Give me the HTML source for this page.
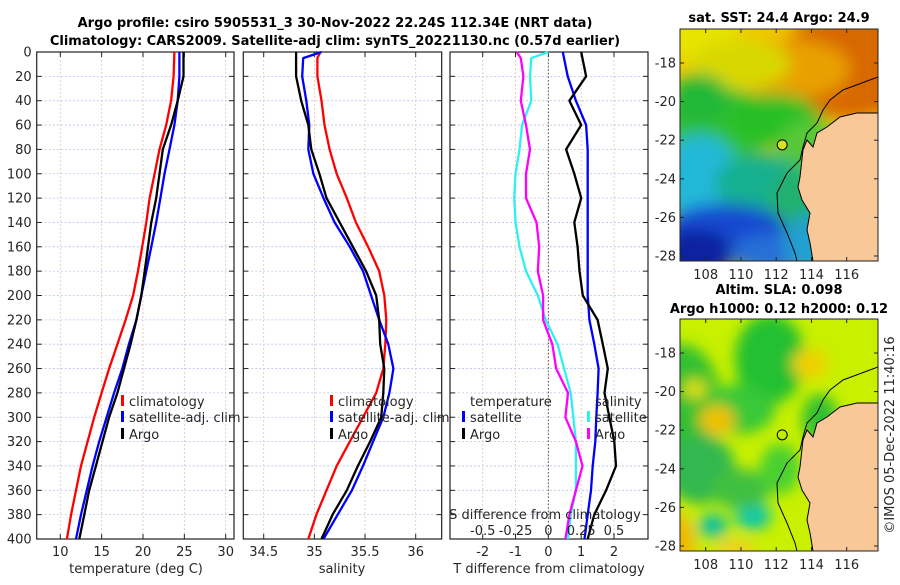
<!DOCTYPE html>
<html><head><meta charset="utf-8">
<style>
body{margin:0;background:#fff;}
svg text{font-family:"DejaVu Sans","Liberation Sans",sans-serif;}
</style></head>
<body>
<svg id="chart" width="900" height="580" viewBox="0 0 900 580" xmlns="http://www.w3.org/2000/svg">
<defs>
<filter id="blur1" x="-20%" y="-20%" width="140%" height="140%"><feGaussianBlur stdDeviation="8"/></filter>
<filter id="blur2" x="-20%" y="-20%" width="140%" height="140%"><feGaussianBlur stdDeviation="7"/></filter>
<clipPath id="clipMap1"><rect x="680" y="29" width="198" height="232"/></clipPath>
<clipPath id="clipMap2"><rect x="680" y="319" width="198" height="232"/></clipPath>
</defs>
<text x="335" y="27" text-anchor="middle" font-size="13" font-weight="bold">Argo profile: csiro 5905531_3 30-Nov-2022 22.24S 112.34E (NRT data)</text>
<text x="335" y="45" text-anchor="middle" font-size="13" font-weight="bold">Climatology: CARS2009. Satellite-adj clim: synTS_20221130.nc (0.57d earlier)</text>
<g id="plots"></g>
<g id="maps"></g>
</svg>
<script>
// ---- data ----
const depths = [0,20,40,60,80,100,120,140,160,180,200,220,240,260,280,300,320,340,360,380,400];
const tempArgo = [24.9,24.9,24.2,23.4,22.4,22.0,21.6,21.0,20.6,20.2,19.8,19.2,18.5,17.7,16.9,15.9,15.1,14.3,13.5,12.9,12.3];
const tempClim = [23.8,23.7,23.4,22.8,22.0,21.4,20.8,20.4,19.9,19.4,18.8,17.9,16.9,15.9,15.0,14.1,13.3,12.5,11.9,11.3,10.8];
const tempSat  = [24.4,24.4,24.2,23.8,23.2,22.6,22.1,21.6,21.0,20.4,19.8,19.2,18.3,17.5,16.5,15.6,14.7,13.9,13.2,12.5,11.9];
const salDepths = [0,5,20,40,60,80,100,120,140,160,180,200,220,240,260,280,300,320,340,360,380,400];
const salArgo = [34.82,34.82,34.82,34.87,34.94,34.97,35.05,35.12,35.25,35.38,35.51,35.61,35.64,35.65,35.69,35.68,35.66,35.55,35.43,35.32,35.18,35.07];
const salClim = [35.06,35.03,35.03,35.07,35.10,35.15,35.22,35.32,35.41,35.53,35.64,35.69,35.71,35.70,35.68,35.61,35.48,35.35,35.22,35.12,35.02,34.94];
const salSat  = [35.07,34.89,34.88,34.92,34.95,34.94,34.99,35.09,35.20,35.35,35.48,35.56,35.64,35.73,35.78,35.74,35.68,35.58,35.48,35.37,35.23,35.09];
const dTempSat  = [0.44,0.59,0.84,1.15,1.2,1.2,1.2,1.2,1.2,1.2,1.2,1.25,1.4,1.53,1.5,1.46,1.43,1.35,1.3,1.2,1.1];
const dTempArgo = [1.0,1.15,0.64,1.0,0.54,0.79,1.0,0.79,0.89,0.95,1.05,1.5,1.66,1.81,1.71,1.86,2.01,2.06,1.76,1.4,1.2];
const dSalSat  = [0.0,-0.13,-0.14,-0.13,-0.2,-0.22,-0.25,-0.26,-0.25,-0.22,-0.17,-0.08,-0.02,0.07,0.12,0.17,0.19,0.21,0.21,0.21,0.17,0.15];
const dSalArgo = [-0.24,-0.21,-0.19,-0.21,-0.17,-0.14,-0.17,-0.17,-0.09,-0.07,-0.08,-0.04,-0.04,0.03,0.06,0.15,0.13,0.21,0.26,0.21,0.16,0.13];
const depthTicks = [0,20,40,60,80,100,120,140,160,180,200,220,240,260,280,300,320,340,360,380,400];
const tempTicks = [10,15,20,25,30];
const salTicks = [34.5,35,35.5,36];
const dTTicks = [-2,-1,0,1,2];
const dSTicks = [-0.5,-0.25,0,0.25,0.5];
const dSTickLabels = ['-0.5','-0.25','0','0.25','0.5'];
const lonTicks = [108,110,112,114,116];
const latTicks = [-18,-20,-22,-24,-26,-28];
const floatLon = 112.34, floatLat = -22.24;

const NS='http://www.w3.org/2000/svg';
function mk(tag, attrs, parent, txt){
  const e=document.createElementNS(NS,tag);
  for(const k in attrs) e.setAttribute(k,attrs[k]);
  if(txt!==undefined) e.textContent=txt;
  parent.appendChild(e); return e;
}
const plots=document.getElementById('plots');
const top0=52, bot0=539;
function yD(d){return top0+(d/400)*(bot0-top0);}
function lin(d0,d1,r0,r1){return v=>r0+(v-d0)/(d1-d0)*(r1-r0);}

function panel(name,x0,x1,xs,ticks,tickLabels,showY){
  const g=mk('g',{},plots);
  
  
  depthTicks.forEach(d=>{
    const l=mk('line',{x1:x0,x2:x1,y1:yD(d),y2:yD(d),stroke:'#b8c4e8','stroke-width':0.8,'stroke-dasharray':'2,2'},g);
    
    
    mk('line',{x1:x0,x2:x0+5,y1:yD(d),y2:yD(d),stroke:'#222'},g);
    mk('line',{x1:x1-5,x2:x1,y1:yD(d),y2:yD(d),stroke:'#222'},g);
    if(showY){
      const tl=mk('text',{x:x0-5,y:yD(d)+4.5,'text-anchor':'end','font-size':13,fill:'#262626'},g,String(d));
      
      
    }
  });
  ticks.forEach((v,i)=>{
    const x=xs(v);
    const l=mk('line',{x1:x,x2:x,y1:top0,y2:bot0,stroke:'#e8c0b0','stroke-width':0.8,'stroke-dasharray':'2,2'},g);
    
    
    mk('line',{x1:x,x2:x,y1:bot0,y2:bot0-5,stroke:'#222'},g);
    mk('line',{x1:x,x2:x,y1:top0,y2:top0+5,stroke:'#222'},g);
    if(tickLabels){
      const tl=mk('text',{x:x,y:556,'text-anchor':'middle','font-size':13,fill:'#262626'},g,tickLabels[i]);
      
      
    }
  });
  const fr=mk('rect',{x:x0,y:top0,width:x1-x0,height:bot0-top0,fill:'none',stroke:'#222','stroke-width':1.2},g);
  
  
  return g;
}
function series(g,name,xs,vals,dep,color){
  const pts=vals.map((v,i)=>xs(v).toFixed(1)+','+yD(dep[i]).toFixed(1)).join(' ');
  const p=mk('polyline',{points:pts,fill:'none',stroke:color,'stroke-width':2.3,'stroke-linejoin':'round'},g);
  
  
}
function legend(g,name,x,y,color,label){
  const e=mk('g',{},g);
  
  
  if(color) mk('rect',{x:x,y:y-11,width:3,height:11,fill:color},e);
  mk('text',{x:x+8,y:y,'font-size':13,fill:'#262626'},e,label);
}
function xlabel(g,name,x,y,label){
  const t=mk('text',{x:x,y:y,'text-anchor':'middle','font-size':13,fill:'#262626'},g,label);
  
  
}

const xT=lin(10,30,60.3,225.7);
const g1=panel('temperature-panel',36.7,234,xT,tempTicks,tempTicks.map(String),true);
series(g1,'temp-climatology-line',xT,tempClim,depths,'#f00');
series(g1,'temp-satellite-line',xT,tempSat,depths,'#00f');
series(g1,'temp-argo-line',xT,tempArgo,depths,'#000');
legend(g1,'legend-climatology',121,406,'#f00','climatology');
legend(g1,'legend-satellite-adj',121,422,'#00f','satellite-adj. clim');
legend(g1,'legend-argo',121,439,'#000','Argo');
xlabel(g1,'temperature-axis-title',136,573,'temperature (deg C)');

const xS=lin(34.5,36,263.7,415.7);
const g2=panel('salinity-panel',243.3,441.7,xS,salTicks,salTicks.map(String),false);
series(g2,'sal-climatology-line',xS,salClim,salDepths,'#f00');
series(g2,'sal-satellite-line',xS,salSat,salDepths,'#00f');
series(g2,'sal-argo-line',xS,salArgo,salDepths,'#000');
legend(g2,'legend-climatology-sal',330,406,'#f00','climatology');
legend(g2,'legend-satellite-adj-sal',330,422,'#00f','satellite-adj. clim');
legend(g2,'legend-argo-sal',330,439,'#000','Argo');
xlabel(g2,'salinity-axis-title',342,573,'salinity');

const xDT=lin(-2,2,482.7,614);
const xDS=lin(-0.5,0.5,482.7,614);
const g3=panel('difference-panel',450,648,xDT,dTTicks,dTTicks.map(String),false);
const zl=mk('line',{x1:xDT(0),x2:xDT(0),y1:top0,y2:bot0,stroke:'#555','stroke-width':1,'stroke-dasharray':'1.5,2'},g3);


series(g3,'dsal-satellite-line',xDS,dSalSat,salDepths,'#2ff0f0');
series(g3,'dsal-argo-line',xDS,dSalArgo,salDepths,'#ff00ff');
series(g3,'dtemp-satellite-line',xDT,dTempSat,depths,'#00f');
series(g3,'dtemp-argo-line',xDT,dTempArgo,depths,'#000');
legend(g3,'legend-temperature-heading',462,406,null,'temperature');
legend(g3,'legend-temp-satellite',462,422,'#00f','satellite');
legend(g3,'legend-temp-argo',462,439,'#000','Argo');
legend(g3,'legend-salinity-heading',587,406,null,'salinity');
legend(g3,'legend-sal-satellite',587,422,'#2ff0f0','satellite');
legend(g3,'legend-sal-argo',587,439,'#ff00ff','Argo');
xlabel(g3,'s-difference-axis-title',545,519,'S difference from climatology');
dSTicks.forEach((v,i)=>{
  const t=mk('text',{x:xDS(v),y:535,'text-anchor':'middle','font-size':13,fill:'#262626'},g3,dSTickLabels[i]);
  
  
});
xlabel(g3,'t-difference-axis-title',549,573,'T difference from climatology');

// ---- Maps ----
const maps=document.getElementById('maps');
const lonX=lin(108,116,705.7,846.7);
const latY=lin(-18,-28,63,256);
const coastShelf=[[878,77],[843,90],[830,100],[823,110],[817,123],[807,133],[803,147],[800,160],[787,173],[780,187],[777,193],[778,213],[787,233],[795,253],[797,261]];
const coastLand=[[878,113],[857,113],[840,117],[827,127],[817,133],[813,147],[807,140],[803,150],[800,177],[798,187],[802,200],[810,213],[807,230],[810,243],[813,261]];

function drawMap(name,oy,blobs,base,title1,title2){
  const g=mk('g',{},maps);
  
  
  const inner=mk('g',{'clip-path':'url(#'+(oy?'clipMap2':'clipMap1')+')'},g);
  mk('rect',{x:680,y:29+oy,width:198,height:232,fill:base},inner);
  const bg=mk('g',{filter:'url(#'+(oy?'blur2':'blur1')+')'},inner);
  blobs.forEach(b=>mk('ellipse',{cx:680+b[0],cy:29+oy+b[1],rx:b[2],ry:b[3],fill:b[4]},bg));
  const land=coastLand.map(p=>p[0]+','+(p[1]+oy)).join(' ')+' 878,'+(261+oy);
  const lp=mk('polygon',{points:land,fill:'#f8c898',stroke:'#000','stroke-width':1},inner);
  
  
  const sh=mk('polyline',{points:coastShelf.map(p=>p[0]+','+(p[1]+oy)).join(' '),fill:'none',stroke:'#000','stroke-width':1},inner);
  
  
  const c=mk('circle',{cx:lonX(floatLon),cy:latY(floatLat)+oy,r:5,fill:oy?'none':'#d8e020',stroke:'#000','stroke-width':1},g);
  
  
  mk('rect',{x:680,y:29+oy,width:198,height:232,fill:'none',stroke:'#222'},g);
  lonTicks.forEach(v=>{
    const x=lonX(v);
    mk('line',{x1:x,x2:x,y1:261+oy,y2:257+oy,stroke:'#222'},g);
    mk('line',{x1:x,x2:x,y1:29+oy,y2:33+oy,stroke:'#222'},g);
    const t=mk('text',{x:x,y:279+oy,'text-anchor':'middle','font-size':13,fill:'#262626'},g,String(v));
    
    
  });
  latTicks.forEach(v=>{
    const y=latY(v)+oy;
    mk('line',{x1:680,x2:684,y1:y,y2:y,stroke:'#222'},g);
    mk('line',{x1:874,x2:878,y1:y,y2:y,stroke:'#222'},g);
    const t=mk('text',{x:676,y:y+4.5,'text-anchor':'end','font-size':13,fill:'#262626'},g,String(v));
    
    
  });
  const t1=mk('text',{x:779,y:title2?oy+4:oy+22,'text-anchor':'middle','font-size':13,'font-weight':'bold'},g,title1);
  
  
  if(title2){
    const t2=mk('text',{x:779,y:oy+23,'text-anchor':'middle','font-size':13,'font-weight':'bold'},g,title2);
    
    
  }
}
drawMap('sst-map',0,[
  [10,5,50,25,'#e8e400'],[170,35,70,55,'#d86800'],[110,40,60,30,'#e8a000'],
  [60,35,50,25,'#d8d800'],[40,95,60,35,'#30c030'],[95,90,45,25,'#28c028'],
  [20,70,30,25,'#20b838'],[130,130,35,40,'#58c838'],
  [20,150,40,45,'#20b8d8'],[80,155,45,30,'#18b090'],[120,175,30,40,'#20b070'],
  [45,200,60,25,'#1848d0'],[15,225,40,25,'#0820a0'],[90,225,40,20,'#2870d8'],[130,215,25,30,'#20a0d0'],
  [150,140,25,20,'#50d040']
],'#f0c800','sat. SST: 24.4 Argo: 24.9',null);
drawMap('sla-map',290,[
  [0,80,40,55,'#30c030'],[90,40,35,45,'#20c030'],[60,90,35,25,'#38c838'],
  [37,101,18,15,'#f0c000'],[15,70,12,10,'#e0e010'],[130,45,18,15,'#f0d000'],
  [20,150,35,35,'#30b850'],[33,207,15,12,'#10c0a0'],[73,197,18,14,'#10c8a8'],
  [60,170,30,20,'#40c040'],[0,225,15,30,'#f0b800'],[55,230,20,10,'#f0d020'],
  [100,150,20,25,'#48d030'],[140,100,18,25,'#30c030']
],'#c8f000','Altim. SLA: 0.098','Argo h1000: 0.12 h2000: 0.12');
const cr=mk('text',{x:0,y:0,transform:'translate(894,435) rotate(-90)','text-anchor':'middle','font-size':13,fill:'#262626'},maps,'©IMOS 05-Dec-2022 11:40:16');


</script>
</body></html>
